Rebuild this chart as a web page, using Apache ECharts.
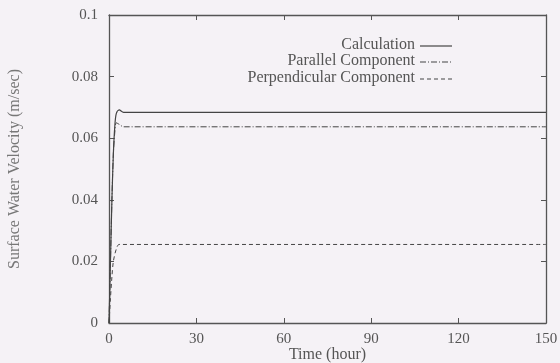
<!DOCTYPE html>
<html><head><meta charset="utf-8">
<script src="https://cdn.jsdelivr.net/npm/echarts@6/dist/echarts.min.js"></script>
<style>html,body{margin:0;padding:0;background:#f5f2f6;}#c{width:560px;height:363px;}</style>
</head><body><div id="c"></div>
<script>
const xTicks = [0, 30, 60, 90, 120, 150];
const yTicks = [0, 0.02, 0.04, 0.06, 0.08, 0.1];
const calcT = [0, 0.5, 1, 1.5, 2, 2.5, 3.5, 5, 150];
const calcV = [0, 0.02, 0.04, 0.055, 0.064, 0.068, 0.0692, 0.0684, 0.0684];
const parT = [0, 0.5, 1, 1.5, 2, 2.5, 3.5, 5, 150];
const parV = [0, 0.02, 0.04, 0.055, 0.062, 0.065, 0.0645, 0.0637, 0.0637];
const perT = [0, 0.5, 1, 1.5, 2.5, 3.5, 150];
const perV = [0, 0.008, 0.015, 0.02, 0.024, 0.0255, 0.0255];
const names = ['Calculation', 'Parallel Component', 'Perpendicular Component'];

const zip = (t, v) => t.map((x, i) => [x, v[i]]);
const font = 'Liberation Serif';
const col = '#444';
const chart = echarts.init(document.getElementById('c'));
const axisBase = () => ({
  axisLine: {show: true, onZero: false, lineStyle: {color: '#555', width: 1.3}},
  axisTick: {show: true, inside: true, length: 5, lineStyle: {color: '#555'}},
  splitLine: {show: false}
});
const legendY = [46, 62, 79];
const dashes = ['solid', [6, 2, 1, 2], [4, 3]];
const graphic = [];
names.forEach((n, i) => {
  graphic.push({type: 'text', right: 560 - 415, top: legendY[i] - 9,
    style: {text: n, font: '16px "' + font + '"', fill: '#555', textAlign: 'right'}});
  graphic.push({type: 'line', shape: {x1: 420, y1: legendY[i], x2: 452, y2: legendY[i]},
    style: {stroke: col, lineWidth: 1.2, lineDash: dashes[i] === 'solid' ? null : dashes[i]}});
});
chart.setOption({
  backgroundColor: '#f5f2f6',
  animation: false,
  grid: {left: 109, right: 14, top: 15, bottom: 40, containLabel: false, outerBoundsMode: 'none'},
  xAxis: [
    Object.assign({type: 'value', min: 0, max: 150, interval: 30,
      name: 'Time (hour)', nameLocation: 'middle', nameGap: 24, nameMoveOverlap: false,
      nameTextStyle: {fontFamily: font, fontSize: 16, color: '#555'},
      axisLabel: {fontFamily: font, fontSize: 15, color: '#555', margin: 9,
        formatter: v => xTicks.includes(v) ? String(v) : ''}}, axisBase()),
    Object.assign({type: 'value', position: 'top', min: 0, max: 150, interval: 30,
      axisLabel: {show: false}}, axisBase())
  ],
  yAxis: [
    Object.assign({type: 'value', min: 0, max: 0.1, interval: 0.02,
      name: 'Surface Water Velocity (m/sec)', nameLocation: 'middle', nameGap: 86, nameMoveOverlap: false,
      nameTextStyle: {fontFamily: font, fontSize: 16, color: '#777'},
      axisLabel: {fontFamily: font, fontSize: 15, color: '#555', margin: 11,
        formatter: v => { const t = yTicks.find(y => Math.abs(y - v) < 1e-9); return t === undefined ? '' : String(+t.toFixed(2)); }}}, axisBase()),
    Object.assign({type: 'value', position: 'right', min: 0, max: 0.1, interval: 0.02,
      axisLabel: {show: false}}, axisBase())
  ],
  graphic: graphic,
  series: [
    {name: names[0], type: 'line', data: zip(calcT, calcV), showSymbol: false, smooth: 0.3,
      lineStyle: {color: col, width: 1.2, type: 'solid'}},
    {name: names[1], type: 'line', data: zip(parT, parV), showSymbol: false, smooth: 0.3,
      lineStyle: {color: col, width: 1, type: [6, 2, 1, 2]}},
    {name: names[2], type: 'line', data: zip(perT, perV), showSymbol: false, smooth: 0.3,
      lineStyle: {color: col, width: 1, type: [4, 3]}}
  ]
});
</script></body></html>
